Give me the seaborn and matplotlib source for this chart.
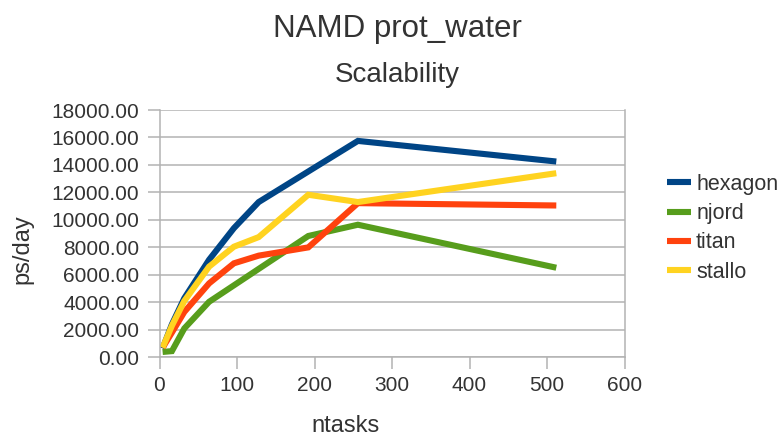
import matplotlib
matplotlib.use("Agg")
import matplotlib.pyplot as plt
import seaborn as sns
import pandas as pd
from matplotlib.ticker import FormatStrFormatter, MultipleLocator

# ---- data ----
hexagon_x = [4, 16, 32, 64, 96, 128, 256, 512]
hexagon_y = [650, 2400, 4300, 7100, 9400, 11300, 15750, 14250]

njord_x = [4, 16, 32, 64, 192, 256, 512]
njord_y = [390, 450, 2100, 4040, 8830, 9650, 6520]

titan_x = [4, 16, 32, 64, 96, 128, 192, 256, 512]
titan_y = [700, 1800, 3300, 5380, 6840, 7400, 8000, 11220, 11050]

stallo_x = [4, 16, 32, 64, 96, 128, 192, 256, 512]
stallo_y = [700, 2300, 4100, 6600, 8050, 8750, 11830, 11300, 13400]

series_names = ["hexagon", "njord", "titan", "stallo"]
series_colors = ["#004586", "#579d1c", "#ff420e", "#ffd320"]

frames = []
for name, xs, ys in zip(series_names,
                        [hexagon_x, njord_x, titan_x, stallo_x],
                        [hexagon_y, njord_y, titan_y, stallo_y]):
    frames.append(pd.DataFrame({"ntasks": xs, "ps/day": ys, "system": name}))
df = pd.concat(frames, ignore_index=True)

# ---- figure ----
sns.set_style("white")
plt.rcParams["font.family"] = ["Liberation Sans", "DejaVu Sans"]
text_color = "#333333"
grid_color = "#b3b3b3"

W, H = 783, 436
L, R, B, T = 159.5, 624.5, 357.3, 110

fig = plt.figure(figsize=(W / 100, H / 100), dpi=100)
ax = fig.add_axes([L / W, (H - B) / H, (R - L) / W, (B - T) / H])

sns.lineplot(data=df, x="ntasks", y="ps/day", hue="system",
             hue_order=series_names, palette=series_colors,
             linewidth=4.4, sort=False, estimator=None, ax=ax,
             legend=True)
for ln in ax.get_lines():
    ln.set_solid_capstyle("butt")
    ln.set_solid_joinstyle("miter")

ax.set_xlim(0, 600)
ax.set_ylim(0, 18000)
ax.xaxis.set_major_locator(MultipleLocator(100))
ax.yaxis.set_major_locator(MultipleLocator(2000))
ax.yaxis.set_major_formatter(FormatStrFormatter("%.2f"))

ax.grid(axis="y", color=grid_color, linewidth=1.1)
ax.grid(axis="x", visible=False)
ax.set_axisbelow(True)
for side in ["left", "right", "bottom"]:
    ax.spines[side].set_color(grid_color)
    ax.spines[side].set_linewidth(1.1)
ax.spines["top"].set_visible(False)

ax.tick_params(axis="both", which="major", direction="out", length=8.5,
               width=1.1, color=grid_color, labelcolor=text_color,
               labelsize=15)
ax.tick_params(axis="y", pad=6)
ax.tick_params(axis="x", pad=5)
ax.tick_params(left=True, bottom=True)

ax.set_xlabel("ntasks", fontsize=17, color=text_color)
ax.set_ylabel("ps/day", fontsize=17, color=text_color)
ax.xaxis.label.set_va("baseline")
ax.xaxis.set_label_coords((346 - L) / (R - L), -(431.5 - B) / (B - T))
ax.yaxis.set_label_coords(-(L - 33.5) / (R - L), (B - 249) / (B - T))

fig.text(397 / W, 1 - 36.7 / H, "NAMD prot_water", ha="center", va="baseline",
         fontsize=22.5, color=text_color)
fig.text(397 / W, 1 - 81.7 / H, "Scalability", ha="center", va="baseline",
         fontsize=20, color=text_color)

handles, labels = ax.get_legend_handles_labels()
ax.get_legend().remove()
leg = fig.legend(handles, labels, loc="upper left",
                 bbox_to_anchor=(667 / W, 1 - 174 / H),
                 frameon=False, fontsize=15.5, handlelength=1.1,
                 handletextpad=0.25, labelspacing=0.38, borderpad=0,
                 borderaxespad=0)
for t in leg.get_texts():
    t.set_color(text_color)
for h in leg.legend_handles:
    h.set_linewidth(4.4)
    h.set_solid_capstyle("butt")

fig.savefig("out.png", dpi=100)
